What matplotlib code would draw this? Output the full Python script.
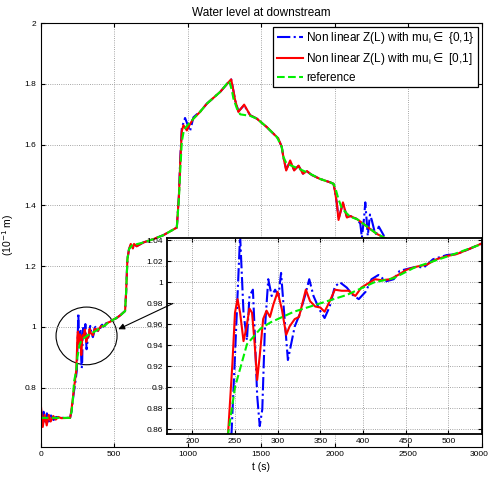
import numpy as np
import matplotlib
matplotlib.use('Agg')
import matplotlib.pyplot as plt
import matplotlib.transforms as mtransforms
from matplotlib.patches import Ellipse
from matplotlib.ticker import FormatStrFormatter

plt.rcParams['font.family'] = ['Liberation Sans', 'DejaVu Sans']

# reference (green dashed)
t_ref = [0, 100, 200, 210, 220, 227, 242, 250, 264, 280,
         292, 319, 350, 381, 413, 436, 460, 500, 541, 574,
         581, 590, 601, 620, 700, 767, 835, 926, 940, 950,
         960, 975, 1000, 1040, 1084, 1130, 1221, 1282, 1300, 1311,
         1334, 1357, 1425, 1470, 1538, 1607, 1640, 1651, 1670, 1700,
         1760, 1850, 1901, 1969, 1992, 2003, 2026, 2049, 2106, 2151,
         2196, 2242, 2287, 2344, 2500, 2700, 3000]
z_ref = [0.70, 0.70, 0.70, 0.72, 0.765, 0.82, 0.856, 0.90, 0.941, 0.956,
         0.962, 0.972, 0.980, 0.988, 1.000, 1.004, 1.014, 1.025, 1.037, 1.052,
         1.112, 1.223, 1.256, 1.268, 1.278, 1.289, 1.302, 1.327, 1.42, 1.52,
         1.61, 1.65, 1.665, 1.686, 1.708, 1.735, 1.774, 1.81, 1.78, 1.752,
         1.72, 1.70, 1.695, 1.686, 1.658, 1.625, 1.592, 1.56, 1.54, 1.532,
         1.52, 1.50, 1.487, 1.476, 1.471, 1.46, 1.42, 1.39, 1.362, 1.355,
         1.339, 1.322, 1.306, 1.292, 1.24, 1.18, 1.10]

# mu in [0,1] (red)
t_red = [0, 14, 27, 41, 55, 68, 86, 102, 120, 140,
         200, 208, 220, 230, 242, 247, 250, 253, 256, 260,
         263, 267, 270, 273, 276, 279, 283, 287, 291, 295,
         300, 305, 310, 314, 320, 325, 333, 338, 344, 350,
         355, 361, 367, 375, 383, 391, 398, 406, 414, 422,
         432, 441, 451, 463, 475, 486, 498, 510, 525, 539,
         574, 581, 590, 601, 613, 627, 635, 653, 699, 767,
         835, 926, 940, 950, 960, 971, 994, 1017, 1039, 1084,
         1130, 1221, 1289, 1296, 1310, 1323, 1345, 1384, 1425, 1470,
         1538, 1607, 1617, 1640, 1651, 1670, 1697, 1724, 1754, 1784,
         1811, 1845, 1901, 1969, 1992, 2003, 2015, 2026, 2056, 2083,
         2106, 2151, 2196, 2242, 2287, 2344, 2500, 2700, 3000]
z_red = [0.748, 0.67, 0.71, 0.675, 0.71, 0.688, 0.706, 0.694, 0.703, 0.699,
         0.70, 0.721, 0.77, 0.81, 0.857, 0.923, 0.971, 0.984, 0.971, 0.944,
         0.955, 0.975, 0.971, 0.942, 0.907, 0.930, 0.965, 0.973, 0.967, 0.979,
         0.991, 0.974, 0.950, 0.958, 0.965, 0.967, 0.993, 0.982, 0.977, 0.976,
         0.972, 0.982, 0.993, 0.992, 0.992, 0.987, 0.995, 0.999, 1.003, 1.002,
         1.003, 1.007, 1.012, 1.015, 1.017, 1.022, 1.025, 1.027, 1.032, 1.037,
         1.052, 1.112, 1.223, 1.256, 1.273, 1.258, 1.273, 1.265, 1.278, 1.289,
         1.302, 1.327, 1.43, 1.55, 1.645, 1.664, 1.647, 1.669, 1.686, 1.708,
         1.735, 1.774, 1.812, 1.815, 1.78, 1.746, 1.708, 1.732, 1.697, 1.686,
         1.658, 1.625, 1.62, 1.592, 1.559, 1.515, 1.548, 1.515, 1.531, 1.504,
         1.513, 1.50, 1.487, 1.476, 1.471, 1.443, 1.405, 1.352, 1.41, 1.36,
         1.365, 1.355, 1.339, 1.322, 1.306, 1.292, 1.24, 1.18, 1.10]

# mu in {0,1} (blue)
t_blue = [0, 10, 20, 30, 42, 55, 70, 88, 105, 140,
          200, 210, 222, 235, 246, 250, 256, 260, 264, 267,
          271, 273, 276, 279, 282, 285, 289, 293, 297, 301,
          304, 307, 312, 316, 320, 325, 332, 337, 342, 349,
          355, 361, 367, 373, 381, 388, 395, 403, 410, 418,
          427, 436, 443, 453, 463, 471, 482, 498, 510, 525,
          539, 574, 581, 590, 601, 613, 627, 635, 653, 699,
          767, 835, 926, 940, 950, 960, 982, 1016, 1039, 1062,
          1084, 1130, 1221, 1289, 1296, 1310, 1323, 1345, 1384, 1425,
          1470, 1538, 1607, 1617, 1640, 1651, 1670, 1697, 1724, 1754,
          1784, 1811, 1845, 1901, 1969, 1992, 2003, 2015, 2026, 2056,
          2083, 2106, 2151, 2174, 2185, 2200, 2208, 2225, 2240, 2253,
          2268, 2280, 2300, 2344, 2500, 2700, 3000]
z_blue = [0.74, 0.68, 0.72, 0.68, 0.715, 0.688, 0.708, 0.693, 0.703, 0.70,
          0.70, 0.722, 0.772, 0.815, 0.857, 0.93, 1.045, 0.971, 0.945, 0.987,
          0.993, 0.955, 0.892, 0.863, 0.879, 0.955, 1.003, 0.987, 0.993, 0.987,
          1.009, 0.977, 0.926, 0.942, 0.958, 0.968, 0.987, 1.003, 0.987, 0.974,
          0.966, 0.977, 0.996, 1.000, 0.995, 0.988, 0.984, 0.991, 1.003, 1.007,
          1.001, 1.003, 1.011, 1.013, 1.015, 1.014, 1.022, 1.026, 1.027, 1.032,
          1.037, 1.052, 1.112, 1.223, 1.256, 1.27, 1.26, 1.272, 1.266, 1.278,
          1.289, 1.302, 1.327, 1.43, 1.56, 1.655, 1.688, 1.645, 1.69, 1.70,
          1.708, 1.735, 1.774, 1.812, 1.815, 1.78, 1.746, 1.71, 1.73, 1.697,
          1.686, 1.658, 1.625, 1.62, 1.592, 1.559, 1.518, 1.545, 1.517, 1.53,
          1.505, 1.512, 1.50, 1.487, 1.476, 1.471, 1.443, 1.405, 1.355, 1.408,
          1.362, 1.365, 1.355, 1.34, 1.294, 1.36, 1.41, 1.30, 1.37, 1.35,
          1.32, 1.306, 1.33, 1.292, 1.24, 1.18, 1.10]

lab_blue = 'Non linear Z(L) with mu$_\\mathregular{i}\\in$ {0,1}'
lab_red = 'Non linear Z(L) with mu$_\\mathregular{i}\\in$ [0,1]'
lab_ref = 'reference'


def draw(a):
    a.plot(t_blue, z_blue, color='b', ls='-.', lw=1.5, label=lab_blue)
    a.plot(t_red, z_red, color='r', ls='-', lw=1.5, label=lab_red)
    a.plot(t_ref, z_ref, color='#00f000', ls='--', lw=1.5, label=lab_ref)
    a.grid(True, ls=':', color='#888888', lw=0.6)
    a.tick_params(direction='in', labelsize=6, length=3, top=True, right=True, pad=3)
    a.yaxis.set_major_formatter(FormatStrFormatter('%g'))


fig = plt.figure(figsize=(4.89, 4.78), dpi=100)
ax = fig.add_axes([0.0832, 0.0655, 0.9019, 0.8858])
draw(ax)
ax.set_xlim(0, 3000)
ax.set_ylim(0.605, 2.0)
ax.set_yticks([0.8, 1.0, 1.2, 1.4, 1.6, 1.8, 2.0])
ax.set_xticks([0, 500, 1000, 1500, 2000, 2500, 3000])
ax.set_title('Water level at downstream', fontsize=8.5, pad=5)
ax.set_xlabel('t (s)', fontsize=7.5, labelpad=3)
ax.set_ylabel('(10$^{-1}$ m)', fontsize=7.5, labelpad=6)
leg = ax.legend(loc='upper right', fontsize=8.5, fancybox=False, edgecolor='k',
                framealpha=1, borderaxespad=0.3, handlelength=2.2,
                handletextpad=0.3, labelspacing=0.4, borderpad=0.3)
leg.get_frame().set_linewidth(0.9)

# keep the last x label inside the figure
fig.canvas.draw()
lbl = ax.get_xticklabels()[-1]
lbl.set_transform(lbl.get_transform() +
                  mtransforms.ScaledTranslation(-3 / 100, 0, fig.dpi_scale_trans))

ax.add_patch(Ellipse((312, 0.97), width=415, height=0.19, fill=False,
                     color='k', lw=0.8))

ax2 = fig.add_axes([0.3421, 0.0921, 0.6429, 0.4105])
draw(ax2)
ax2.set_xlim(170.7, 539)
ax2.set_ylim(0.8555, 1.0425)
ax2.set_xticks([200, 250, 300, 350, 400, 450, 500])
ax2.set_yticks([0.86, 0.88, 0.90, 0.92, 0.94, 0.96, 0.98, 1.0, 1.02, 1.04])
for s in ax2.spines.values():
    s.set_linewidth(1.3)

ax2.annotate('', xy=(528, 0.992), xycoords=ax.transData,
             xytext=(900, 1.077), textcoords=ax.transData,
             arrowprops=dict(arrowstyle='-|>', color='k', lw=0.8,
                             mutation_scale=9, shrinkA=0, shrinkB=0),
             annotation_clip=False)

fig.savefig('out.png', dpi=100)
